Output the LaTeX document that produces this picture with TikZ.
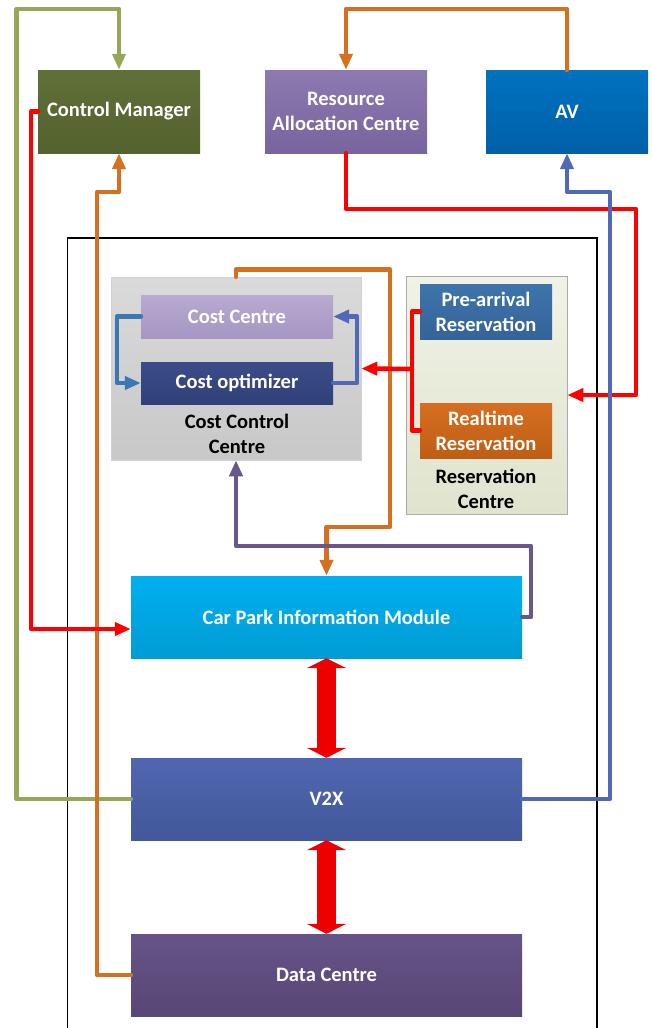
\documentclass[tikz,border=0pt]{standalone}
\usepackage{fontspec}
\setmainfont{Carlito}
\usetikzlibrary{arrows.meta,calc}
\definecolor{lgreen}{RGB}{150,168,88}
\definecolor{lred}{RGB}{255,0,0}
\definecolor{lorange}{RGB}{214,112,32}
\definecolor{lblue}{RGB}{79,104,184}
\definecolor{lpurple}{RGB}{103,87,140}
\definecolor{lsteel}{RGB}{58,120,180}
\definecolor{bigred}{RGB}{238,0,0}
\tikzset{
  box/.style={draw=none, inner sep=0pt, align=center, text=white,
    font=\fontsize{20.5}{25}\selectfont\bfseries},
  lbl/.style={inner sep=0pt, align=center, text=black,
    font=\fontsize{20.5}{25}\selectfont\bfseries},
  conn/.style={line width=4.6pt, line join=round, line cap=round,
    -{Triangle[length=16pt,width=13pt]}},
  plain/.style={line width=4.6pt, line join=round, line cap=round},
  bigarrow/.style={line width=19pt, draw=bigred,
    {Triangle[length=10pt,width=39pt]}-{Triangle[length=10pt,width=39pt]}}
}
\begin{document}
\begin{tikzpicture}[x=1pt,y=-1pt]
\useasboundingbox (0,0) rectangle (651,1028);
% outer frame
\draw[line width=1.5pt] (67.5,1028) -- (67.5,238) -- (597,238) -- (597,1028);

% top boxes
\node[box, minimum width=162pt, minimum height=83pt,
  top color={rgb,255:red,96;green,112;blue,56}, bottom color={rgb,255:red,84;green,98;blue,46}]
  (cm) at (119,111.5) {Control Manager};
\node[box, minimum width=162pt, minimum height=83pt,
  top color={rgb,255:red,140;green,122;blue,176}, bottom color={rgb,255:red,120;green,100;blue,158}]
  (rac) at (346,111.5) {Resource\\Allocation Centre};
\node[box, minimum width=162pt, minimum height=83pt,
  top color={rgb,255:red,0;green,114;blue,192}, bottom color={rgb,255:red,0;green,96;blue,168}]
  (av) at (567,111.5) {AV};

% cost control centre
\node[box, minimum width=250pt, minimum height=183pt, draw={rgb,255:red,210;green,210;blue,210}, line width=0.6pt,
  top color={rgb,255:red,218;green,218;blue,218}, bottom color={rgb,255:red,200;green,200;blue,200}]
  (ccc) at (236,368.5) {};
\node[lbl] (ccct) at (237,434) {Cost Control\\Centre};
\node[box, minimum width=192pt, minimum height=43pt,
  top color={rgb,255:red,184;green,170;blue,208}, bottom color={rgb,255:red,165;green,150;blue,195}]
  (cc) at (237,316.5) {Cost Centre};
\node[box, minimum width=192pt, minimum height=42pt,
  top color={rgb,255:red,60;green,76;blue,138}, bottom color={rgb,255:red,48;green,64;blue,120}]
  (co) at (237,383) {Cost optimizer};

% reservation centre
\node[box, minimum width=161pt, minimum height=238pt, draw={rgb,255:red,170;green,170;blue,170}, line width=0.6pt,
  top color={rgb,255:red,240;green,242;blue,230}, bottom color={rgb,255:red,224;green,228;blue,205}]
  (rc) at (486.5,395) {};
\node[lbl] (rct) at (486,489) {Reservation\\Centre};
\node[box, minimum width=132pt, minimum height=55pt,
  top color={rgb,255:red,62;green,116;blue,172}, bottom color={rgb,255:red,52;green,100;blue,152}]
  (pre) at (486,311.5) {Pre-arrival\\Reservation};
\node[box, minimum width=132pt, minimum height=55pt,
  top color={rgb,255:red,214;green,110;blue,32}, bottom color={rgb,255:red,190;green,94;blue,20}]
  (rt) at (486,430.5) {Realtime\\Reservation};

% main column
\node[box, minimum width=391pt, minimum height=82pt,
  top color={rgb,255:red,0;green,176;blue,240}, bottom color={rgb,255:red,0;green,156;blue,212}]
  (cpim) at (326.5,617) {Car Park Information Module};
\node[box, minimum width=391pt, minimum height=82pt,
  top color={rgb,255:red,80;green,102;blue,176}, bottom color={rgb,255:red,66;green,88;blue,154}]
  (v2x) at (326.5,799) {V2X};
\node[box, minimum width=391pt, minimum height=82pt,
  top color={rgb,255:red,102;green,84;blue,136}, bottom color={rgb,255:red,88;green,70;blue,118}]
  (dc) at (326.5,975) {Data Centre};

% big double arrows
\draw[bigarrow] (cpim.south) -- (v2x.north);
\draw[bigarrow] (v2x.south) -- (dc.north);

% connectors
\draw[conn, draw=lgreen] (v2x.west) -| (16.5,9) -| (cm.north);
\draw[conn, draw=lorange] (dc.west) -| (97,192) -| (cm.south);
\draw[conn, draw=lred] (cm.west) -| (31,629) -- ([yshift=-12pt]cpim.west);
\draw[conn, draw=lorange] (av.north) |- (346,9) -- (rac.north);
\draw[conn, draw=lred] (rac.south) |- (636,209) |- (rc.east);
\draw[conn, draw=lblue] (v2x.east) -| (610,192) -| (av.south);
\draw[conn, draw=lorange] (ccc.north) -- ++(0,-7) -| (390,527) -| (cpim.north);
\draw[conn, draw=lpurple] (cpim.east) -| (531,546) -| (ccc.south);
\coordinate (br) at (412,369);
\draw[plain, draw=lred] (pre.west) -| (br) |- (rt.west);
\draw[conn, draw=lred] (br) -- (ccc.east);
\draw[conn, draw=lsteel] (cc.west) -| (117,383) -- (co.west);
\draw[conn, draw=lblue] (co.east) -| (357,316.5) -- (cc.east);
\end{tikzpicture}
\end{document}
